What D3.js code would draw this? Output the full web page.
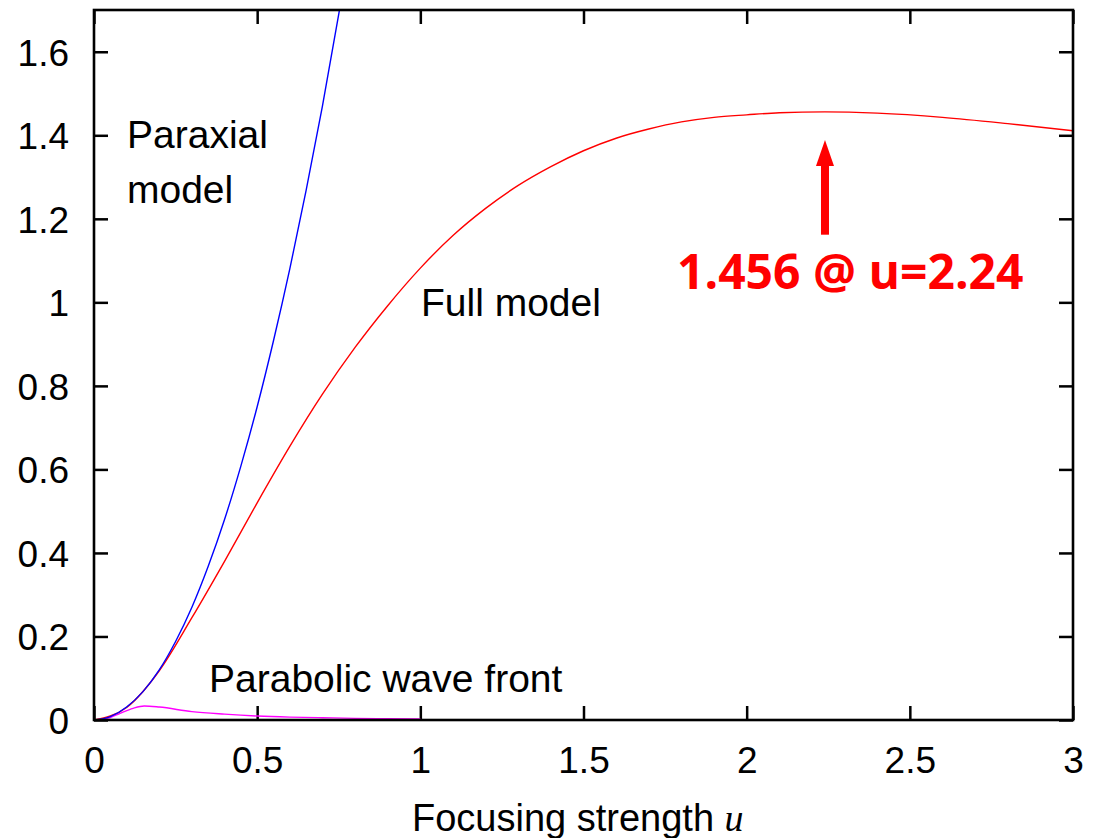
<!DOCTYPE html>
<html>
<head>
<meta charset="utf-8">
<script src="https://cdn.jsdelivr.net/npm/d3@7"></script>
<style>
  html, body { margin: 0; padding: 0; background: #fff; }
  svg { display: block; }
</style>
</head>
<body>
<svg id="chart" width="1102" height="838"></svg>
<script>
// ---- data ----
const fullU   = [0, 0.1, 0.2, 0.3, 0.4, 0.5, 0.6, 0.7, 0.8, 0.9, 1.0, 1.1, 1.2, 1.3, 1.4, 1.5, 1.6, 1.7, 1.8, 1.9, 2.0, 2.1, 2.24, 2.4, 2.6, 2.8, 3.0];
const fullV   = [0, 0.03, 0.118, 0.245, 0.38, 0.52, 0.655, 0.78, 0.892, 0.992, 1.082, 1.16, 1.225, 1.28, 1.325, 1.363, 1.393, 1.415, 1.432, 1.443, 1.449, 1.454, 1.456, 1.453, 1.443, 1.428, 1.411];

const paraxU  = [0, 0.05, 0.1, 0.15, 0.2, 0.25, 0.3, 0.35, 0.4, 0.45, 0.5, 0.55, 0.6, 0.65, 0.7, 0.75, 0.8];
const paraxV  = [0, 0.008, 0.031, 0.068, 0.12, 0.188, 0.27, 0.368, 0.48, 0.608, 0.75, 0.908, 1.08, 1.268, 1.47, 1.69, 1.92];

const paraboU = [0, 0.05, 0.08, 0.12, 0.154, 0.2, 0.3, 0.4, 0.5, 0.6, 0.7, 0.8, 0.9, 1.0];
const paraboV = [0, 0.006, 0.016, 0.028, 0.0335, 0.031, 0.020, 0.014, 0.0096, 0.007, 0.0055, 0.004, 0.003, 0.0024];

const xTicks = [0, 0.5, 1, 1.5, 2, 2.5, 3];
const yTicks = [0, 0.2, 0.4, 0.6, 0.8, 1, 1.2, 1.4, 1.6];

const peakU = 2.24, peakV = 1.456;
const arrowFrom = 1.162, arrowTo = 1.389;
const peakLabel = "1.456 @ u=2.24";

// ---- layout ----
const SANS = "'Liberation Sans', Arial, Helvetica, sans-serif";
const svg = d3.select("#chart");
const L = 94, R = 1073, T = 10, B = 720;
const x = d3.scaleLinear().domain([0, 3]).range([L, R]);
const y = d3.scaleLinear().domain([0, 1.7]).range([B, T]);

svg.append("defs").append("clipPath").attr("id", "clip")
  .append("rect").attr("x", L).attr("y", T).attr("width", R - L).attr("height", B - T);

const tickLen = 14;
const fmt = d3.format("~g");
// bottom ticks + labels, mirrored top ticks
const gB = svg.append("g").attr("transform", `translate(0,${B})`)
  .call(d3.axisBottom(x).tickValues(xTicks).tickSize(tickLen).tickFormat(fmt));
gB.select(".domain").remove();
gB.selectAll(".tick line").attr("y2", -tickLen).attr("stroke", "#000").attr("stroke-width", 2.5);
gB.selectAll(".tick text").attr("y", 53).attr("dy", null)
  .style("font-size", "37px").style("font-family", SANS).attr("fill", "#000");

const gT = svg.append("g").attr("transform", `translate(0,${T})`)
  .call(d3.axisTop(x).tickValues(xTicks).tickSize(tickLen));
gT.select(".domain").remove();
gT.selectAll(".tick line").attr("y2", tickLen).attr("stroke", "#000").attr("stroke-width", 2.5);
gT.selectAll(".tick text").remove();

const gL = svg.append("g").attr("transform", `translate(${L},0)`)
  .call(d3.axisLeft(y).tickValues(yTicks).tickSize(tickLen).tickFormat(fmt));
gL.select(".domain").remove();
gL.selectAll(".tick line").attr("x2", tickLen).attr("stroke", "#000").attr("stroke-width", 2.5);
gL.selectAll(".tick text").attr("x", -25).attr("dy", "0.36em")
  .style("font-size", "37px").style("font-family", SANS).attr("fill", "#000");

const gR = svg.append("g").attr("transform", `translate(${R},0)`)
  .call(d3.axisRight(y).tickValues(yTicks).tickSize(tickLen));
gR.select(".domain").remove();
gR.selectAll(".tick line").attr("x2", -tickLen).attr("stroke", "#000").attr("stroke-width", 2.5);
gR.selectAll(".tick text").remove();

// curves
const line = d3.line().x(d => x(d[0])).y(d => y(d[1])).curve(d3.curveMonotoneX);
const plot = svg.append("g").attr("clip-path", "url(#clip)");
plot.append("path").datum(d3.zip(paraboU, paraboV)).attr("d", line)
  .attr("fill", "none").attr("stroke", "#ff00ff").attr("stroke-width", 1.4);
plot.append("path").datum(d3.zip(fullU, fullV)).attr("d", line)
  .attr("fill", "none").attr("stroke", "#ff0000").attr("stroke-width", 1.4);
plot.append("path").datum(d3.zip(paraxU, paraxV)).attr("d", line)
  .attr("fill", "none").attr("stroke", "#0000ff").attr("stroke-width", 1.4);

// frame
svg.append("rect").attr("x", L).attr("y", T).attr("width", R - L).attr("height", B - T)
  .attr("fill", "none").attr("stroke", "#000").attr("stroke-width", 2.6);

// labels
const lab = (t, xx, yy) => svg.append("text").attr("x", xx).attr("y", yy)
  .style("font-size", "39px").style("font-family", SANS).attr("fill", "#000").text(t);
lab("Paraxial", 127, 148);
lab("model", 127, 203);
lab("Full model", 421, 316);
lab("Parabolic wave front", 209, 692);

// x axis title
const xt = svg.append("text").attr("x", 412).attr("y", 831)
  .style("font-size", "38px").style("font-family", SANS).attr("fill", "#000");
xt.append("tspan").text("Focusing strength ");
xt.append("tspan").style("font-family", "'Liberation Serif', 'DejaVu Serif', serif")
  .style("font-style", "italic").text("u");

// peak arrow
const ax = x(peakU), yTail = y(arrowFrom), yTip = y(arrowTo), headLen = 26;
svg.append("rect").attr("x", ax - 4).attr("y", yTip + headLen - 1).attr("width", 8).attr("height", yTail - yTip - headLen + 1)
  .attr("fill", "#ff0000");
svg.append("path").attr("d", `M${ax},${yTip} L${ax - 9},${yTip + headLen} L${ax + 9},${yTip + headLen} Z`)
  .attr("fill", "#ff0000");
svg.append("text").attr("x", 677).attr("y", 289)
  .style("font-family", "'Open Sans', 'DejaVu Sans', sans-serif").style("font-weight", "700")
  .style("font-size", "48px").attr("fill", "#ff0000").text(peakLabel);
</script>
</body>
</html>
